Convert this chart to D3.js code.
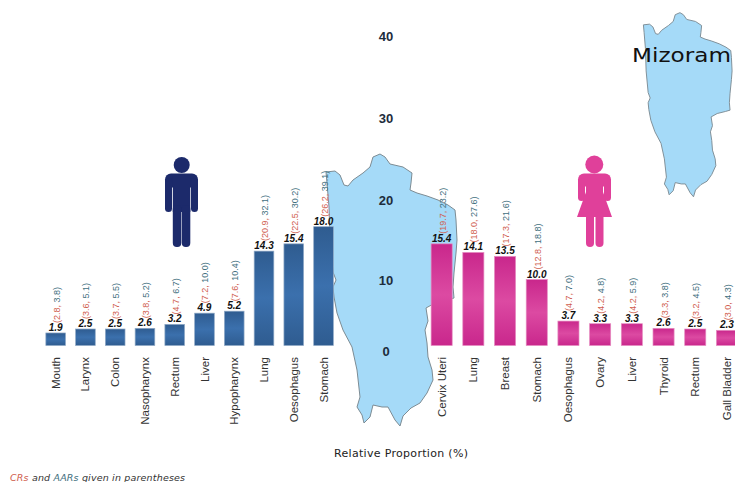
<!DOCTYPE html>
<html>
<head>
<meta charset="utf-8">
<script src="https://cdn.jsdelivr.net/npm/d3@7"></script>
<style>
  body { margin: 0; background: #fff; }
  svg { display: block; }
</style>
</head>
<body>
<div id="chart"></div>
<script>
var svgWidth = 735;
var svgHeight = 482;

var maleSites = ["Mouth", "Larynx", "Colon", "Nasopharynx", "Rectum", "Liver", "Hypopharynx", "Lung", "Oesophagus", "Stomach"];
var maleValues = [1.9, 2.5, 2.5, 2.6, 3.2, 4.9, 5.2, 14.3, 15.4, 18.0];
var maleCR = [2.8, 3.6, 3.7, 3.8, 4.7, 7.2, 7.6, 20.9, 22.5, 26.2];
var maleAAR = [3.8, 5.1, 5.5, 5.2, 6.7, 10.0, 10.4, 32.1, 30.2, 39.1];

var femaleSites = ["Cervix Uteri", "Lung", "Breast", "Stomach", "Oesophagus", "Ovary", "Liver", "Thyroid", "Rectum", "Gall Bladder"];
var femaleValues = [15.4, 14.1, 13.5, 10.0, 3.7, 3.3, 3.3, 2.6, 2.5, 2.3];
var femaleCR = [19.7, 18.0, 17.3, 12.8, 4.7, 4.2, 4.2, 3.3, 3.2, 3.0];
var femaleAAR = [23.2, 27.6, 21.6, 18.8, 7.0, 4.8, 5.9, 3.8, 4.5, 4.3];

var tickValues = [0, 10, 20, 30, 40];
var tickPositions = [351, 280, 200, 118, 36];

// state outline
var mapOutline = [
  [326, 172], [335, 171], [340, 175], [344, 185], [348, 186], [353, 180], [363, 173], [370, 167], [373, 157],
  [380, 154], [385, 157], [390, 164], [403, 167], [412, 173], [411, 183], [410, 190], [417, 193], [427, 196],
  [438, 200], [448, 205], [455, 210], [456, 220], [457, 240], [456, 253], [454, 273], [453, 287], [454, 298],
  [447, 300], [435, 303], [426, 308], [428, 321], [425, 330], [427, 343], [428, 357], [432, 370], [433, 380],
  [427, 393], [420, 403], [411, 408], [403, 416], [400, 426], [395, 420], [388, 407], [382, 407], [373, 405],
  [370, 417], [364, 423], [362, 415], [357, 407], [360, 397], [357, 370], [352, 347], [343, 330], [337, 313],
  [334, 297], [333, 287], [336, 280], [333, 272], [330, 240], [329, 207], [327, 183]
];

var svg = d3.select("#chart")
  .append("svg")
  .attr("width", svgWidth)
  .attr("height", svgHeight);

var defs = svg.append("defs");

function addGradient(id, edge, middle) {
  var grad = defs.append("linearGradient")
    .attr("id", id)
    .attr("x1", 0).attr("y1", 0)
    .attr("x2", 0).attr("y2", 1);
  grad.append("stop").attr("offset", "0%").attr("stop-color", edge);
  grad.append("stop").attr("offset", "50%").attr("stop-color", middle);
  grad.append("stop").attr("offset", "100%").attr("stop-color", edge);
}
addGradient("blueBar", "#2f5c90", "#3b70ad");
addGradient("pinkBar", "#c9278c", "#dc4aa2");

// maps go underneath everything
var outlinePath = d3.line()(mapOutline) + "Z";

svg.append("path")
  .attr("d", outlinePath)
  .attr("fill", "#a5daf8")
  .attr("stroke", "#7d8c94")
  .attr("stroke-width", 1);

svg.append("path")
  .attr("d", outlinePath)
  .attr("transform", "translate(422.7, -91.6) scale(0.677)")
  .attr("fill", "#a5daf8")
  .attr("stroke", "#7d8c94")
  .attr("stroke-width", 1.4);

svg.append("text")
  .attr("x", 632)
  .attr("y", 62)
  .style("font-family", "'DejaVu Sans'")
  .style("font-size", "20px")
  .attr("textLength", 99)
  .attr("lengthAdjust", "spacingAndGlyphs")
  .attr("fill", "#111")
  .text("Mizoram");

var yScale = d3.scaleLinear()
  .domain([0, 40])
  .range([345.5, 81.5]);

// the printed axis numbers do not line up with the bars in the original
var tickScale = d3.scaleLinear()
  .domain(tickValues)
  .range(tickPositions);

var leftAxis = d3.axisLeft(tickScale)
  .tickValues(tickValues)
  .tickSize(0);

var axisGroup = svg.append("g")
  .attr("transform", "translate(386, 0)")
  .call(leftAxis);

axisGroup.select(".domain").remove();
axisGroup.selectAll("text")
  .attr("x", 0)
  .style("text-anchor", "middle")
  .style("font-family", "'Liberation Sans'")
  .style("font-weight", "bold")
  .style("font-size", "13px")
  .attr("fill", "#1d2c3c");

var fmt = d3.format(".1f");

function drawGroup(sites, values, cr, aar, range, padding, gradient, stroke) {
  var xScale = d3.scaleBand()
    .domain(sites)
    .range(range)
    .paddingInner(padding)
    .paddingOuter(padding / 2);

  var rows = sites.map(function (site, i) {
    return { site: site, value: values[i], cr: cr[i], aar: aar[i] };
  });

  var group = svg.append("g");

  group.selectAll("rect")
    .data(rows)
    .enter()
    .append("rect")
    .attr("x", d => xScale(d.site))
    .attr("y", d => yScale(d.value))
    .attr("width", xScale.bandwidth())
    .attr("height", d => yScale(0) - yScale(d.value))
    .attr("fill", "url(#" + gradient + ")")
    .attr("stroke", stroke)
    .attr("stroke-width", 0.7);

  group.selectAll(".value")
    .data(rows)
    .enter()
    .append("text")
    .attr("class", "value")
    .attr("x", d => xScale(d.site) + xScale.bandwidth() / 2)
    .attr("y", d => yScale(d.value) - 2)
    .style("text-anchor", "middle")
    .style("font-family", "'Liberation Sans'")
    .style("font-weight", "bold")
    .style("font-style", "italic")
    .style("font-size", "10px")
    .attr("fill", "#111")
    .text(d => fmt(d.value));

  var ranges = group.selectAll(".range")
    .data(rows)
    .enter()
    .append("text")
    .attr("class", "range")
    .attr("transform", d => `translate(${xScale(d.site) + xScale.bandwidth() / 2 + 4}, ${yScale(d.value) - 10}) rotate(-90)`)
    .style("font-family", "'Liberation Sans'")
    .style("font-size", "9px");

  ranges.append("tspan").attr("fill", "#d0604f").text(d => "(" + fmt(d.cr) + ",");
  ranges.append("tspan").attr("fill", "#3f6f7e").text(d => " " + fmt(d.aar) + ")");

  var siteAxis = d3.axisBottom(xScale).tickSize(0);

  var axis = svg.append("g")
    .attr("transform", "translate(0, 357)")
    .call(siteAxis);

  axis.select(".domain").remove();
  axis.selectAll("text")
    .attr("transform", "rotate(-90)")
    .attr("x", 0)
    .attr("y", 0)
    .attr("dy", ".35em")
    .style("text-anchor", "end")
    .style("font-family", "'Liberation Sans'")
    .style("font-size", "11.5px")
    .attr("fill", "#333");
}

drawGroup(maleSites, maleValues, maleCR, maleAAR, [40.8, 338.4], 0.34, "blueBar", "#8fa9c6");
drawGroup(femaleSites, femaleValues, femaleCR, femaleAAR, [425.8, 742.8], 0.335, "pinkBar", "#e58cc0");

// male figure
var man = svg.append("g").attr("fill", "#1c2a6b");
man.append("circle").attr("cx", 181.7).attr("cy", 165).attr("r", 8);
man.append("rect").attr("x", 165).attr("y", 173.5).attr("width", 33).attr("height", 14).attr("rx", 6);
man.append("rect").attr("x", 165).attr("y", 178).attr("width", 7).attr("height", 34).attr("rx", 3.5);
man.append("rect").attr("x", 191).attr("y", 178).attr("width", 7).attr("height", 34).attr("rx", 3.5);
man.append("rect").attr("x", 172.8).attr("y", 176).attr("width", 17.5).attr("height", 36);
man.append("rect").attr("x", 172.8).attr("y", 205).attr("width", 8.5).attr("height", 42).attr("rx", 4);
man.append("rect").attr("x", 181.8).attr("y", 205).attr("width", 8.5).attr("height", 42).attr("rx", 4);

// female figure
var woman = svg.append("g").attr("fill", "#e0409a");
woman.append("circle").attr("cx", 594.3).attr("cy", 164.5).attr("r", 9);
woman.append("rect").attr("x", 578).attr("y", 173.5).attr("width", 33).attr("height", 13).attr("rx", 6);
woman.append("rect").attr("x", 578).attr("y", 178).attr("width", 7).attr("height", 23).attr("rx", 3.5);
woman.append("rect").attr("x", 604).attr("y", 178).attr("width", 7).attr("height", 23).attr("rx", 3.5);
woman.append("path").attr("d", "M586,176H603V192L612,217H577L586,192Z");
woman.append("rect").attr("x", 586).attr("y", 212).attr("width", 8).attr("height", 35).attr("rx", 4);
woman.append("rect").attr("x", 595.5).attr("y", 212).attr("width", 8).attr("height", 35).attr("rx", 4);

svg.append("text")
  .attr("x", 334)
  .attr("y", 457)
  .attr("textLength", 134)
  .style("font-family", "'DejaVu Sans'")
  .style("font-size", "11px")
  .attr("fill", "#222")
  .text("Relative Proportion (%)");

var note = svg.append("text")
  .attr("x", 10)
  .attr("y", 481)
  .style("font-family", "'DejaVu Sans'")
  .style("font-style", "italic")
  .style("font-size", "9.5px")
  .attr("textLength", 175)
  .attr("fill", "#333");

note.append("tspan").attr("fill", "#d0604f").text("CRs");
note.append("tspan").text(" and ");
note.append("tspan").attr("fill", "#3f6f7e").text("AARs");
note.append("tspan").text(" given in parentheses");
</script>
</body>
</html>
